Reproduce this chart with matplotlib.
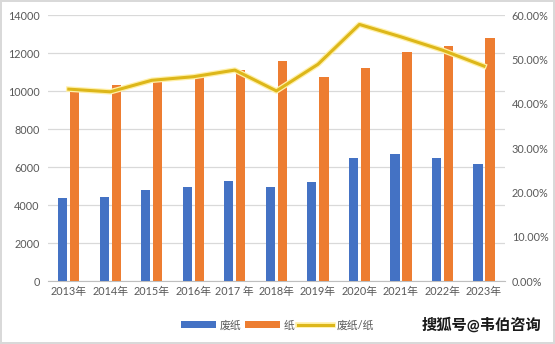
import numpy as np
import matplotlib
matplotlib.use("Agg")
import matplotlib.pyplot as plt
from matplotlib.ticker import FuncFormatter
import matplotlib.patheffects as pe

plt.rcParams['font.family'] = ['Lato', 'Noto Sans CJK SC', 'DejaVu Sans']

years = ['2013年', '2014年', '2015年', '2016年', '2017 年', '2018年',
         '2019年', '2020年', '2021年', '2022年', '2023年']
waste_paper = [4390, 4440, 4790, 4950, 5260, 4950, 5210, 6470, 6680, 6470, 6160]
paper = [10140, 10320, 10670, 10840, 11100, 11600, 10740, 11210, 12050, 12370, 12790]
ratio = [0.433, 0.427, 0.453, 0.461, 0.476, 0.429, 0.489, 0.579, 0.551, 0.521, 0.485]

grey = '#595959'
fig = plt.figure(figsize=(5.55, 3.44), dpi=100)
fig.patch.set_edgecolor('#D9D9D9')
fig.patch.set_linewidth(1.5)

ax = fig.add_axes([0.0865, 0.183, 0.823, 0.773])
x = np.arange(len(years))
w = 0.22
ax.bar(x - 0.145, waste_paper, w, color='#4472C4', label='废纸', zorder=3)
ax.bar(x + 0.145, paper, w, color='#ED7D31', label='纸', zorder=3)
ax.set_ylim(0, 14000)
ax.set_yticks(range(0, 14001, 2000))
ax.set_xlim(-0.5, len(years) - 0.5)
ax.set_xticks(x)
ax.set_xticklabels(years)
ax.grid(axis='y', color='#D9D9D9', linewidth=0.9, zorder=0)
for s in ['top', 'left', 'right']:
    ax.spines[s].set_visible(False)
ax.spines['bottom'].set_color('#BFBFBF')
ax.tick_params(axis='both', length=0, labelsize=7.8, colors=grey)
ax.tick_params(axis='y', pad=6)

ax2 = ax.twinx()
ax2.plot(x, ratio, color='#DDB71A', linewidth=2.2, label='废纸/纸', zorder=4,
         path_effects=[pe.Stroke(linewidth=4, foreground='#FFF0A8'), pe.Normal()])
ax2.set_ylim(0, 0.6)
ax2.set_yticks(np.arange(0, 0.61, 0.1))
ax2.yaxis.set_major_formatter(FuncFormatter(lambda v, p: f'{v * 100:.2f}%'))
for s in ax2.spines.values():
    s.set_visible(False)
ax2.tick_params(axis='y', length=0, labelsize=7.8, colors=grey, pad=5)

h1, l1 = ax.get_legend_handles_labels()
h2, l2 = ax2.get_legend_handles_labels()
fig.legend(h1 + h2, l1 + l2, loc='center', bbox_to_anchor=(0.5, 0.055), ncol=3,
           frameon=False, fontsize=7.8, labelcolor=grey, handlelength=3.2,
           handleheight=0.6, columnspacing=0.4, handletextpad=0.3)

fig.text(0.975, 0.055, '搜狐号@韦伯咨询', ha='right', va='center', fontsize=11,
         fontweight='bold', color='#1a1a1a')

fig.savefig('out.png', dpi=100, facecolor='white', edgecolor=fig.patch.get_edgecolor())
